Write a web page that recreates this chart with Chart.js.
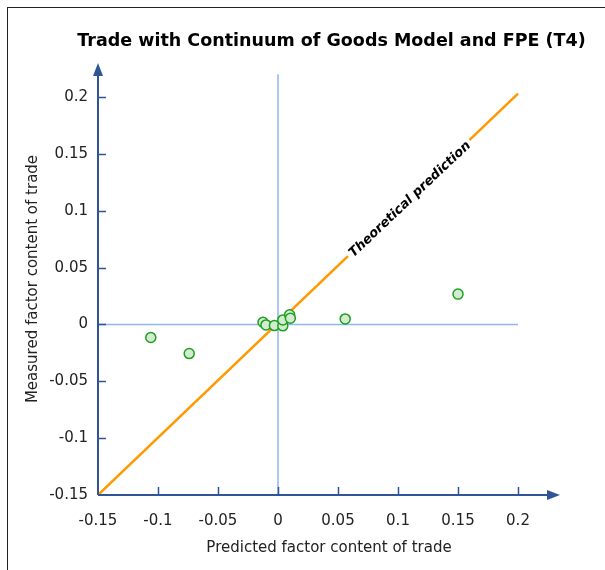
<!DOCTYPE html>
<html>
<head>
<meta charset="utf-8">
<script src="https://cdn.jsdelivr.net/npm/chart.js@4/dist/chart.umd.min.js"></script>
<style>
    html, body { margin: 0; padding: 0; background: #fff; overflow: hidden; }
    #frame { position: absolute; left: 7px; top: 7px; width: 800px; height: 800px; border-left: 1px solid #222; border-top: 1px solid #222; }
    #wrap { position: absolute; left: 0; top: 0; width: 605px; height: 570px; overflow: hidden; }
</style>
</head>
<body>
<div id="frame"></div>
<div id="wrap"><canvas id="chart" width="663" height="570"></canvas></div>
<script>
// measured vs predicted factor content of trade
var predicted = [-0.106, -0.074, 0.15, 0.056, -0.0125, -0.010, -0.003, 0.004, 0.004, 0.0097, 0.0103];
var measured = [-0.0115, -0.0256, 0.0267, 0.0049, 0.002, -0.0004, -0.001, -0.0012, 0.004, 0.0085, 0.0055];
var xTicks = [-0.15, -0.1, -0.05, 0, 0.05, 0.1, 0.15, 0.2];
var yTicks = [-0.15, -0.1, -0.05, 0, 0.05, 0.1, 0.15, 0.2];
var theoryX = [-0.15, 0.2];
var theoryY = [-0.15, 0.203];
var labelAt = 0.11;

var font = "'DejaVu Sans', Verdana, sans-serif";
var axisColor = '#2f5597';
var zeroColor = '#8fb6ee';

function fmt(v) { return String(+(+v).toFixed(2)); }

var axesPlugin = {
    id: 'axesPlugin',
    afterDatasetsDraw: function(chart) {
        var ctx = chart.ctx, xs = chart.scales.x, ys = chart.scales.y, a = chart.chartArea;
        var ox = xs.getPixelForValue(xTicks[0]), oy = ys.getPixelForValue(yTicks[0]);
        ctx.save();
        // theoretical prediction label
        var px = xs.getPixelForValue(labelAt), py = ys.getPixelForValue(labelAt);
        var ang = Math.atan2(ys.getPixelForValue(0.2) - ys.getPixelForValue(-0.15), xs.getPixelForValue(0.2) - xs.getPixelForValue(-0.15));
        ctx.translate(px, py);
        ctx.rotate(ang);
        ctx.font = 'italic bold 13px ' + font;
        var w = ctx.measureText('Theoretical prediction').width;
        ctx.fillStyle = '#fff';
        ctx.fillRect(-w / 2 - 3, -8, w + 6, 16);
        ctx.fillStyle = '#000';
        ctx.textAlign = 'center';
        ctx.textBaseline = 'middle';
        ctx.fillText('Theoretical prediction', 0, 0);
        ctx.restore();

        ctx.save();
        ctx.strokeStyle = axisColor;
        ctx.fillStyle = axisColor;
        ctx.lineWidth = 2;
        ctx.beginPath();
        ctx.moveTo(ox, oy);
        ctx.lineTo(a.right - 10, oy);
        ctx.moveTo(ox, oy);
        ctx.lineTo(ox, a.top + 10);
        ctx.stroke();
        ctx.lineWidth = 1.5;
        ctx.beginPath();
        xTicks.slice(1).forEach(function(v) {
            var x = Math.round(xs.getPixelForValue(v)) + 0.5;
            ctx.moveTo(x, oy); ctx.lineTo(x, oy - 8);
        });
        yTicks.slice(1).forEach(function(v) {
            var y = Math.round(ys.getPixelForValue(v)) + 0.5;
            ctx.moveTo(ox, y); ctx.lineTo(ox + 8, y);
        });
        ctx.stroke();
        // arrows
        ctx.beginPath();
        ctx.moveTo(a.right, oy);
        ctx.lineTo(a.right - 13, oy - 5);
        ctx.lineTo(a.right - 13, oy + 5);
        ctx.closePath();
        ctx.fill();
        ctx.beginPath();
        ctx.moveTo(ox, a.top);
        ctx.lineTo(ox - 5, a.top + 13);
        ctx.lineTo(ox + 5, a.top + 13);
        ctx.closePath();
        ctx.fill();
        ctx.restore();
    }
};

new Chart(document.getElementById('chart'), {
    type: 'scatter',
    data: {
        datasets: [{
            label: 'Countries',
            data: predicted.map(function(v, i) { return {x: v, y: measured[i]}; }),
            backgroundColor: '#d2ecd2',
            borderColor: '#1f9e1f',
            borderWidth: 1.5,
            pointRadius: 5,
            order: 0
        }, {
            label: 'Theoretical prediction',
            type: 'line',
            data: theoryX.map(function(v, i) { return {x: v, y: theoryY[i]}; }),
            borderColor: '#ff9900',
            borderWidth: 2.5,
            pointRadius: 0,
            order: 1
        }, {
            label: 'x zero',
            type: 'line',
            data: [{x: 0, y: -0.15}, {x: 0, y: 0.22}],
            borderColor: zeroColor,
            borderWidth: 1.5,
            pointRadius: 0,
            order: 2
        }, {
            label: 'y zero',
            type: 'line',
            data: [{x: -0.15, y: 0}, {x: 0.2, y: 0}],
            borderColor: zeroColor,
            borderWidth: 1.5,
            pointRadius: 0,
            order: 2
        }]
    },
    options: {
        responsive: false,
        animation: false,
        layout: { padding: 0 },
        plugins: {
            legend: { display: false },
            tooltip: { enabled: false },
            title: {
                display: true,
                text: 'Trade with Continuum of Goods Model and FPE (T4)',
                color: '#000',
                font: { family: font, size: 17.5, weight: 'bold' },
                padding: { top: 30.5, bottom: 11.5 }
            }
        },
        scales: {
            x: {
                type: 'linear',
                min: -0.15,
                max: 0.235,
                afterBuildTicks: function(s) { s.ticks = xTicks.map(function(v) { return {value: v}; }); },
                afterFit: function(s) { s.height = 75; },
                grid: { display: false, drawTicks: false },
                border: { display: false },
                ticks: {
                    autoSkip: false,
                    maxRotation: 0,
                    padding: 17,
                    color: '#222',
                    font: { family: font, size: 15 },
                    callback: fmt
                },
                title: {
                    display: true,
                    text: 'Predicted factor content of trade',
                    color: '#222',
                    font: { family: font, size: 15 },
                    padding: { top: 0, bottom: 13 }
                }
            },
            y: {
                type: 'linear',
                min: -0.15,
                max: 0.23,
                afterBuildTicks: function(s) { s.ticks = yTicks.map(function(v) { return {value: v}; }); },
                afterFit: function(s) { s.width = 98; },
                grid: { display: false, drawTicks: false },
                border: { display: false },
                ticks: {
                    autoSkip: false,
                    padding: 10,
                    color: '#222',
                    font: { family: font, size: 15 },
                    callback: fmt
                },
                title: {
                    display: true,
                    text: 'Measured factor content of trade',
                    color: '#222',
                    font: { family: font, size: 15 },
                    padding: { top: 24, bottom: 0 }
                }
            },
            // empty spacer on the right so the title centres over the plot
            spacer: {
                type: 'linear',
                position: 'right',
                min: -0.15,
                max: 0.23,
                afterFit: function(s) { s.width = 103; },
                grid: { display: false, drawTicks: false },
                border: { display: false },
                ticks: { display: false }
            }
        }
    },
    plugins: [axesPlugin]
});
</script>
</body>
</html>
